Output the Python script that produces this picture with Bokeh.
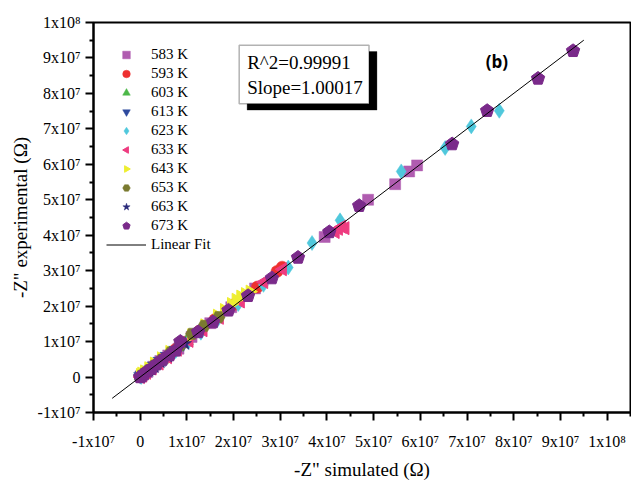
import math
from bokeh.plotting import figure
from bokeh.models import (Range1d, FixedTicker, Label, BoxAnnotation, Legend, LegendItem)
from bokeh.embed import file_html
from bokeh.resources import INLINE

# ---------------- data (Ohm) ----------------
labels = ["583 K", "593 K", "603 K", "613 K", "623 K", "633 K", "643 K", "653 K", "663 K", "673 K"]
colors = ["#b05cb0", "#ee3030", "#4cb848", "#2e4a9e", "#50c8dc", "#ee3c80", "#eeee30", "#7a7a30", "#2a2a7a", "#7a2a8a"]

x583 = [0.1e6, 0.6e6, 1.5e6, 2.8e6, 4.3e6, 6.0e6, 8.2e6, 11.0e6, 15.0e6, 19.5e6, 24.6e6, 39.5e6, 48.8e6, 54.6e6, 57.6e6, 59.3e6]
y583 = [0.2e6, 0.7e6, 1.4e6, 2.9e6, 4.5e6, 6.1e6, 8.0e6, 11.3e6, 15.2e6, 19.7e6, 25.0e6, 39.5e6, 50.0e6, 54.4e6, 58.0e6, 59.7e6]
x593 = [0.0, 0.4e6, 1.2e6, 2.4e6, 3.9e6, 5.6e6, 7.5e6, 9.8e6, 12.6e6, 16.0e6, 20.2e6, 25.1e6, 29.3e6, 30.4e6]
y593 = [0.1e6, 0.5e6, 1.3e6, 2.3e6, 4.0e6, 5.5e6, 7.7e6, 9.9e6, 12.9e6, 16.2e6, 20.5e6, 25.4e6, 29.8e6, 31.0e6]
x603 = [0.1e6, 0.5e6, 1.1e6, 2.0e6, 3.2e6, 4.6e6, 6.2e6, 8.0e6, 10.0e6]
y603 = [0.3e6, 0.6e6, 1.3e6, 2.2e6, 3.5e6, 4.8e6, 6.6e6, 8.4e6, 10.2e6]
x613 = [0.0, 0.3e6, 0.9e6, 1.7e6, 2.8e6, 4.1e6, 5.6e6, 7.4e6, 9.3e6]
y613 = [0.2e6, 0.5e6, 1.2e6, 2.0e6, 3.1e6, 4.5e6, 5.9e6, 7.6e6, 9.4e6]
x623 = [0.2e6, 0.9e6, 2.0e6, 3.5e6, 5.4e6, 7.6e6, 10.3e6, 13.0e6, 16.5e6, 21.0e6, 26.4e6, 31.7e6, 36.8e6, 42.8e6, 55.9e6, 65.3e6, 70.9e6, 76.9e6]
y623 = [0.0, 0.7e6, 1.8e6, 3.3e6, 5.1e6, 7.3e6, 9.9e6, 12.5e6, 16.0e6, 20.6e6, 26.0e6, 30.9e6, 37.8e6, 44.2e6, 58.0e6, 64.6e6, 70.7e6, 75.1e6]
x633 = [0.1e6, 0.6e6, 1.4e6, 2.6e6, 4.1e6, 5.9e6, 8.0e6, 10.5e6, 13.5e6, 17.0e6, 21.5e6, 26.5e6, 30.5e6, 41.8e6, 42.5e6, 43.2e6, 43.9e6]
y633 = [0.0, 0.4e6, 1.2e6, 2.4e6, 3.8e6, 5.6e6, 7.7e6, 10.2e6, 13.2e6, 16.7e6, 21.3e6, 26.8e6, 30.4e6, 40.9e6, 41.8e6, 42.4e6, 42.0e6]
x643 = [0.0, 0.3e6, 0.9e6, 1.8e6, 3.0e6, 4.5e6, 6.3e6, 8.5e6, 11.0e6, 13.8e6, 16.5e6, 18.0e6, 19.5e6, 20.5e6, 21.5e6, 22.5e6, 23.5e6]
y643 = [0.6e6, 1.0e6, 1.6e6, 2.5e6, 3.8e6, 5.3e6, 7.1e6, 9.3e6, 11.8e6, 14.6e6, 17.3e6, 18.9e6, 20.6e6, 21.8e6, 22.7e6, 23.4e6, 24.1e6]
x653 = [0.2e6, 0.8e6, 1.8e6, 3.0e6, 4.6e6, 6.5e6, 8.6e6, 11.1e6, 13.7e6, 16.8e6]
y653 = [0.3e6, 0.9e6, 1.9e6, 3.2e6, 4.9e6, 6.9e6, 9.1e6, 12.2e6, 14.4e6, 16.9e6]
x663 = [0.0, 0.4e6, 1.0e6, 1.9e6, 3.0e6, 4.3e6, 5.9e6, 7.7e6, 9.6e6]
y663 = [0.1e6, 0.4e6, 1.0e6, 1.8e6, 2.9e6, 4.2e6, 5.8e6, 7.6e6, 9.4e6]
x673 = [0.0, 0.3e6, 0.8e6, 1.5e6, 2.4e6, 3.5e6, 4.8e6, 6.3e6, 7.6e6, 8.6e6, 12.4e6, 15.6e6, 18.9e6, 23.1e6, 28.2e6, 33.8e6, 40.5e6, 46.9e6, 66.8e6, 74.3e6, 85.2e6, 92.7e6]
y673 = [0.0, 0.2e6, 0.8e6, 1.6e6, 2.3e6, 3.6e6, 4.9e6, 6.2e6, 7.5e6, 10.0e6, 12.7e6, 15.5e6, 18.8e6, 22.9e6, 27.9e6, 33.7e6, 40.9e6, 48.3e6, 65.7e6, 75.1e6, 84.2e6, 92.0e6]

series_x = [x583, x593, x603, x613, x623, x633, x643, x653, x663, x673]
series_y = [y583, y593, y603, y613, y623, y633, y643, y653, y663, y673]

fit_slope = 1.00017
fit_r2 = 0.99991
fit_x = [-6.0e6, 9.5e7]

tick_values = [-1e7, 0, 1e7, 2e7, 3e7, 4e7, 5e7, 6e7, 7e7, 8e7, 9e7, 1e8]
tick_labels = ["-1x10\u2077", "0", "1x10\u2077", "2x10\u2077", "3x10\u2077", "4x10\u2077", "5x10\u2077",
               "6x10\u2077", "7x10\u2077", "8x10\u2077", "9x10\u2077", "1x10\u2078"]

# ---------------- figure ----------------
SERIF = "Liberation Serif"
p = figure(width=631, height=482, output_backend="svg", toolbar_location=None,
           x_range=Range1d(-1e7, 1.05e8), y_range=Range1d(-1e7, 1e8),
           min_border_left=93, min_border_right=1, min_border_top=22, min_border_bottom=60)
p.background_fill_color = "white"
p.border_fill_color = "white"
p.outline_line_color = "black"
p.outline_line_width = 2
p.grid.visible = False

minor = [v + 5e6 for v in tick_values]
for ax in (p.xaxis[0], p.yaxis[0]):
    ax.ticker = FixedTicker(ticks=tick_values, minor_ticks=minor)
    ax.major_label_overrides = {v: t for v, t in zip(tick_values, tick_labels)}
    ax.axis_line_color = "black"
    ax.axis_line_width = 2
    ax.major_tick_line_width = 2
    ax.minor_tick_line_width = 2
    ax.major_tick_out = 8
    ax.major_tick_in = 0
    ax.minor_tick_out = 4
    ax.minor_tick_in = 0
    ax.major_label_text_font = SERIF
    ax.major_label_text_font_size = "16px"
    ax.major_label_text_color = "black"
    ax.axis_label_text_font = SERIF
    ax.axis_label_text_font_size = "19px"
    ax.axis_label_text_font_style = "normal"
    ax.axis_label_text_color = "black"
p.xaxis[0].axis_label = '-Z" simulated (\u03a9)'
p.yaxis[0].axis_label = '-Z" experimental (\u03a9)'
p.xaxis[0].major_label_standoff = 12
p.yaxis[0].major_label_standoff = 5
p.xaxis[0].axis_label_standoff = 6
p.yaxis[0].axis_label_standoff = 4

# ---------------- text box with shadow ----------------
box_l, box_r, box_t, box_b = 2.12e7, 4.9e7, 9.36e7, 7.71e7
sh_dx, sh_dy = 0.17e7, 0.18e7
p.add_layout(BoxAnnotation(left=box_l + sh_dx, right=box_r + sh_dx, top=box_t - sh_dy, bottom=box_b - sh_dy,
                           fill_color="black", fill_alpha=1, line_color="black", level="underlay"))
p.add_layout(BoxAnnotation(left=box_l, right=box_r, top=box_t, bottom=box_b,
                           fill_color="white", fill_alpha=1, line_color="black", line_width=1.5, level="underlay"))
p.add_layout(Label(x=box_l + 0.17e7, y=8.88e7, text="R^2=%.5f" % fit_r2, text_font=SERIF,
                   text_font_size="19px", text_baseline="middle", text_color="black"))
p.add_layout(Label(x=box_l + 0.17e7, y=8.18e7, text="Slope=%.5f" % fit_slope, text_font=SERIF,
                   text_font_size="19px", text_baseline="middle", text_color="black"))
p.add_layout(Label(x=7.64e7, y=8.9e7, text="(b)", text_font="Open Sans", text_font_style="bold",
                   text_font_size="17px", text_align="center", text_baseline="middle", text_color="black"))

# ---------------- scatter series ----------------
# kind: ("scatter", marker, size) or ("ngon", n, radius, angle)
kinds = [
    ("scatter", "square", 11),
    ("scatter", "circle", 12),
    ("scatter", "triangle", 13),
    ("scatter", "inverted_triangle", 13),
    ("scatter", "diamond", 15),
    ("ngon", 3, 7.5, math.pi / 2),
    ("ngon", 3, 7.5, -math.pi / 2),
    ("scatter", "hex", 13),
    ("scatter", "star", 14),
    ("ngon", 5, 7.0, 0.0),
]
items = []
for i in range(10):
    k = kinds[i]
    if k[0] == "ngon":
        r = p.ngon(x=series_x[i], y=series_y[i], radius=k[2], radius_units="screen", n=k[1],
                   angle=k[3], fill_color=colors[i], line_color=colors[i])
    else:
        r = p.scatter(x=series_x[i], y=series_y[i], marker=k[1], size=k[2],
                      fill_color=colors[i], line_color=colors[i], line_width=0.5)
    items.append(LegendItem(label=labels[i], renderers=[r]))

fit_y = [fit_slope * v for v in fit_x]
lr = p.line(fit_x, fit_y, line_color="black", line_width=1)
items.append(LegendItem(label="Linear Fit", renderers=[lr]))

legend = Legend(items=items, location=(13, 158), border_line_alpha=0, background_fill_alpha=0,
                label_text_font=SERIF, label_text_font_size="15px", label_text_color="black",
                glyph_width=40, glyph_height=19, label_height=19, spacing=0, padding=0, margin=0,
                label_standoff=5)
p.add_layout(legend)

open("out.html", "w").write(file_html(p, INLINE))
